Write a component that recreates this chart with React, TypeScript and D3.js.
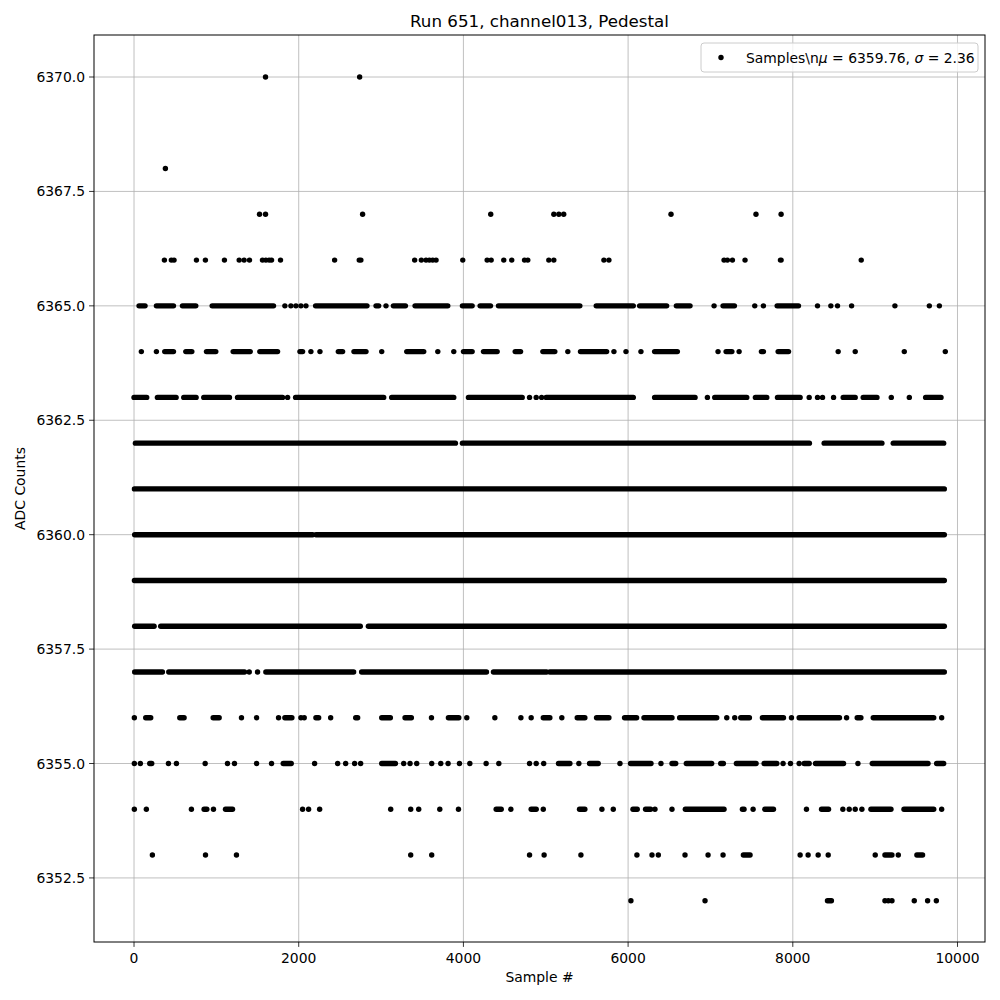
import React from 'react';
import * as d3 from 'd3';

// runs of samples: a number is one sample index, a pair is a stretch of consecutive samples
type Run = number | [number, number];

const levels = [6352, 6353, 6354, 6355, 6356, 6357, 6358, 6359, 6360, 6361, 6362, 6363, 6364, 6365, 6366, 6367, 6368, 6370];

const runs6370: Run[] = [1597, 2740];
const runs6368: Run[] = [381];
const runs6367: Run[] = [1524, 1597, 2776, 4332, 5098, 5159, 5218, 6521, 7553, 7858];
const runs6366: Run[] = [369, 453, 486, 758, 867, 1098, 1277, 1337, 1402, 1560, 1601, 1641, 1670, 1779, 2436, [2735, 2755], 3408, 3489, 3546, 3587, 3627, 3668, 3992, 4288, 4337, 4490, 4587, 4742, 4782, 5037, 5098, 5706, 5767, 7165, 7206, 7267, 7420, [7850, 7858], 8831];
const runs6365: Run[] = [[61, 134], [272, 479], [588, 750], [949, 1694], 1832, 1905, 1966, 2027, 2088, [2205, 2829], [2939, 2971], 3060, [3150, 3296], [3413, 3810], [3988, 4106], [4203, 4329], [4426, 5414], [5613, 6063], [6140, 6468], [6586, 6752], 7044, [7153, 7291], 7538, 7643, [7810, 8069], 8300, 8462, 8543, 8714, 9240, 9658, 9780];
const runs6364: Run[] = [89, 272, [373, 479], [629, 702], [880, 993], [1204, 1411], [1528, 1743], [2015, 2047], 2148, 2258, [2481, 2533], [2671, 2817], 3008, [3312, 3518], 3689, 3883, [4001, 4106], [4244, 4410], [4629, 4694], [4965, 5110], 5268, [5422, 5739], 5828, 5974, 6156, [6322, 6598], 7092, [7190, 7260], 7348, [7619, 7643], [7822, 7948], 8551, 8758, 9354, 9852];
const runs6363: Run[] = [[0, 154], [284, 511], [604, 754], [847, 1159], [1257, 1804], 1865, [1962, 3032], [3129, 3883], [4061, 4714], 4803, 4884, 4950, [5005, 6063], [6322, 6813], 6963, [7052, 7441], [7546, 7684], [7814, 8089], 8199, 8300, 8361, 8495, [8612, 8758], [8855, 9022], 9196, 9415, [9613, 9800]];
const runs6362: Run[] = [[17, 3903], [3988, 8202], [8381, 9082], [9220, 9832]];
const runs6361: Run[] = [[5, 9840]];
const runs6360: Run[] = [[8, 2170], [2210, 9840]];
const runs6359: Run[] = [[5, 9840]];
const runs6358: Run[] = [[8, 244], [324, 2748], [2846, 9840]];
const runs6357: Run[] = [[8, 345], [422, 1342], 1399, 1500, [1601, 2667], [2764, 4280], [4365, 5010], [5050, 9840]];
const runs6356: Run[] = [4, [142, 203], [556, 608], [961, 1034], 1305, 1488, 1755, [1832, 1917], 2027, 2067, [2209, 2242], 2388, [2692, 2716], [3008, 3113], [3291, 3368], 3612, [3818, 3944], 4041, 4382, 4698, 4823, [4970, 5050], 5195, [5382, 5475], [5617, 5767], [5957, 6103], [6193, 6533], [6626, 7076], 7198, 7295, [7368, 7473], [7631, 7887], 7984, [8077, 8567], 8653, [8782, 8827], [8977, 9711], 9808];
const runs6355: Run[] = [4, 77, [191, 215], 418, 515, 864, 1135, 1220, 1488, 1670, [1812, 1909], 2193, 2473, 2570, 2679, 2752, [3008, 3174], 3275, 3352, 3433, 3615, 3725, 3814, 3952, 4078, 4276, 4430, 4803, 4884, 4975, [5155, 5293], 5402, [5532, 5637], 5901, [6030, 6278], 6399, [6533, 6578], [6707, 7015], [7125, 7157], [7315, 7554], [7652, 7806], 7882, 7972, 8077, [8138, 8199], [8276, 8616], 8791, [8965, 9642], [9747, 9832]];
const runs6354: Run[] = [4, 150, 697, [851, 884], 965, [1111, 1196], 2047, 2120, 2254, 3117, 3360, 3457, 3713, 3940, [4398, 4459], 4576, [4823, 4884], 4970, [5410, 5475], 5682, 5820, [6059, 6111], [6212, 6273], 6326, 6533, [6695, 7165], [7388, 7408], 7518, [7660, 7765], 8166, [8349, 8434], 8608, 8685, 8758, 8839, [8949, 9192], [9350, 9711], 9808];
const runs6353: Run[] = [223, 868, 1244, 3360, 3615, 4803, 4980, 5427, 6107, 6290, 6367, 6691, 6971, 7153, [7400, 7481], 8089, 8186, 8308, 8430, 9001, [9119, 9204], 9281, [9507, 9576]];
const runs6352: Run[] = [6034, 6934, [8421, 8469], 9119, 9160, 9204, 9475, 9637, 9743];

const levelRuns: Run[][] = [runs6352, runs6353, runs6354, runs6355, runs6356, runs6357, runs6358, runs6359, runs6360, runs6361, runs6362, runs6363, runs6364, runs6365, runs6366, runs6367, runs6368, runs6370];

const xTicks = [0, 2000, 4000, 6000, 8000, 10000];
const yTicks = [6352.5, 6355, 6357.5, 6360, 6362.5, 6365, 6367.5, 6370];

const mu = 6359.76;
const sigma = 2.36;

const W = 1000;
const H = 1000;
const margin = { top: 35, right: 15, bottom: 58, left: 94 };
const font = 'DejaVu Sans, sans-serif';

const App = () => {
  const x = d3.scaleLinear().domain([-486, 10334]).range([margin.left, W - margin.right]);
  const y = d3.scaleLinear().domain([6351.1, 6370.918]).range([H - margin.bottom, margin.top]);
  const x0 = margin.left;
  const x1 = W - margin.right;
  const y0 = margin.top;
  const y1 = H - margin.bottom;
  const r = 2.7;

  return (
    <svg width={W} height={H} style={{ position: 'absolute', left: 0, top: 0, background: '#fff' }} fontFamily={font}>
      <rect x={0} y={0} width={W} height={H} fill="#fff" />
      {/* grid */}
      {xTicks.map(t => (
        <line key={'gx' + t} x1={x(t)} x2={x(t)} y1={y0} y2={y1} stroke="#b0b0b0" strokeWidth={0.8} />
      ))}
      {yTicks.map(t => (
        <line key={'gy' + t} x1={x0} x2={x1} y1={y(t)} y2={y(t)} stroke="#b0b0b0" strokeWidth={0.8} />
      ))}

      {/* samples */}
      <g fill="#000" stroke="#000">
        {levels.map((lv, i) =>
          levelRuns[i].map((run, j) => {
            if (typeof run === 'number') {
              return <circle key={lv + '-' + j} cx={x(run)} cy={y(lv)} r={r} stroke="none" />;
            }
            return (
              <line key={lv + '-' + j} x1={x(run[0])} x2={x(run[1])} y1={y(lv)} y2={y(lv)}
                strokeWidth={r * 2} strokeLinecap="round" />
            );
          })
        )}
      </g>

      {/* frame */}
      <rect x={x0} y={y0} width={x1 - x0} height={y1 - y0} fill="none" stroke="#000" strokeWidth={1} />

      {/* x axis */}
      {xTicks.map(t => (
        <g key={'tx' + t}>
          <line x1={x(t)} x2={x(t)} y1={y1} y2={y1 + 4.9} stroke="#000" strokeWidth={0.8} />
          <text x={x(t)} y={y1 + 21} textAnchor="middle" fontSize={13.9} fill="#000">{t}</text>
        </g>
      ))}
      <text x={(x0 + x1) / 2} y={982} textAnchor="middle" fontSize={13.9} fill="#000">Sample #</text>

      {/* y axis */}
      {yTicks.map(t => (
        <g key={'ty' + t}>
          <line x1={x0 - 4.9} x2={x0} y1={y(t)} y2={y(t)} stroke="#000" strokeWidth={0.8} />
          <text x={x0 - 9} y={y(t) + 5} textAnchor="end" fontSize={13.9} fill="#000">{t.toFixed(1)}</text>
        </g>
      ))}
      <text transform={`translate(25,${(y0 + y1) / 2}) rotate(-90)`} textAnchor="middle" fontSize={13.9} fill="#000">ADC Counts</text>

      {/* title */}
      <text x={(x0 + x1) / 2} y={27} textAnchor="middle" fontSize={16.7} fill="#000">Run 651, channel013, Pedestal</text>

      {/* legend */}
      <g>
        <rect x={701} y={43} width={277} height={29} rx={3} fill="#fff" fillOpacity={0.8} stroke="#cccccc" strokeWidth={1} />
        <circle cx={721} cy={57.5} r={r} fill="#000" />
        <text x={746} y={62.5} fontSize={13.9} fill="#000">
          Samples\n<tspan fontStyle="italic">μ</tspan> = {mu.toFixed(2)}, <tspan fontStyle="italic">σ</tspan> = {sigma.toFixed(2)}
        </text>
      </g>
    </svg>
  );
};

export default App;
